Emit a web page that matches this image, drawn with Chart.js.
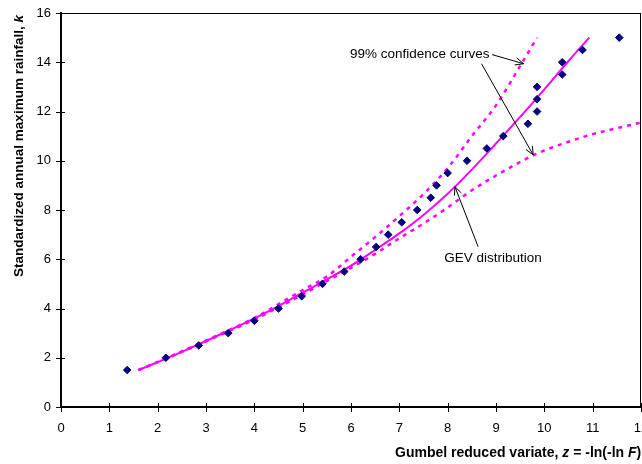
<!DOCTYPE html>
<html>
<head>
<meta charset="utf-8">
<script src="https://cdn.jsdelivr.net/npm/chart.js@4"></script>
<style>
  html, body { margin: 0; padding: 0; background: #fff; overflow: hidden; }
  #wrap { width: 700px; height: 464px; }
</style>
</head>
<body>
<div id="wrap"><canvas id="gumbelChart" width="700" height="464"></canvas></div>
<script>
// Observed standardized annual maxima (plotting positions)
const obsZ = [1.37, 2.17, 2.85, 3.46, 4.0, 4.5, 4.98, 5.41, 5.86, 6.2, 6.52, 6.77, 7.05, 7.37,
  7.65, 7.77, 8.0, 8.4, 8.81, 9.15, 9.66, 9.85, 9.85, 9.85, 10.37, 10.37, 10.79, 11.55];
const obsK = [1.5, 2.0, 2.5, 3.0, 3.5, 4.0, 4.5, 5.0, 5.5, 6.0, 6.5, 7.0, 7.5, 8.0,
  8.5, 9.0, 9.5, 10.0, 10.5, 11.0, 11.5, 12.0, 12.5, 13.0, 13.5, 14.0, 14.5, 15.0];

// Fitted GEV distribution
const gevZ = [1.6, 2, 2.5, 3, 3.5, 4, 4.5, 5, 5.5, 6, 6.5, 7, 7.5, 8, 8.5, 9, 9.5, 10, 10.5, 10.93];
const gevK = [1.5, 1.82, 2.24, 2.68, 3.13, 3.6, 4.1, 4.64, 5.18, 5.74, 6.38, 7.05, 7.8, 8.66, 9.64, 10.7, 11.78, 12.9, 14.05, 15.0];

// 99% confidence curves
const upperZ = [1.6, 2, 3, 4, 5, 5.5, 6, 6.5, 7, 7.5, 8, 8.5, 9, 9.5, 9.85];
const upperK = [1.5, 1.83, 2.7, 3.62, 4.75, 5.3, 6.1, 6.9, 7.75, 8.65, 9.7, 11.0, 12.25, 13.85, 15.0];
const lowerZ = [1.6, 2, 2.5, 3, 3.5, 4, 4.5, 5, 5.5, 6, 6.5, 7, 7.5, 8, 8.5, 9, 9.5, 9.8, 10, 10.5, 11, 11.5, 12];
const lowerK = [1.5, 1.82, 2.24, 2.67, 3.1, 3.55, 4.05, 4.57, 5.12, 5.65, 6.22, 6.85, 7.45, 8.1, 8.8, 9.4, 9.95, 10.25, 10.42, 10.77, 11.08, 11.32, 11.55];

// Axis ticks
const xTicks = [0, 1, 2, 3, 4, 5, 6, 7, 8, 9, 10, 11, 12];
const yTicks = [0, 2, 4, 6, 8, 10, 12, 14, 16];

const MAGENTA = "#FF00FF";
const NAVY = "#000080";
const FONT = "Liberation Sans, Arial, sans-serif";

function toXY(xs, ys) {
  return xs.map((x, i) => ({ x: x, y: ys[i] }));
}

function drawRich(ctx, parts, x, y, size) {
  let cx = x;
  parts.forEach((p) => {
    ctx.font = (p.italic ? "italic " : "") + "bold " + size + "px " + FONT;
    ctx.fillText(p.t, cx, y);
    cx += ctx.measureText(p.t).width;
  });
}

function richWidth(ctx, parts, size) {
  let w = 0;
  parts.forEach((p) => {
    ctx.font = (p.italic ? "italic " : "") + "bold " + size + "px " + FONT;
    w += ctx.measureText(p.t).width;
  });
  return w;
}

function arrow(ctx, x1, y1, x2, y2) {
  const ang = Math.atan2(y2 - y1, x2 - x1);
  const len = 9, spread = 0.42;
  ctx.beginPath();
  ctx.moveTo(x1, y1);
  ctx.lineTo(x2, y2);
  ctx.moveTo(x2 - len * Math.cos(ang - spread), y2 - len * Math.sin(ang - spread));
  ctx.lineTo(x2, y2);
  ctx.lineTo(x2 - len * Math.cos(ang + spread), y2 - len * Math.sin(ang + spread));
  ctx.stroke();
}

// Frame, cross ticks, axis titles and annotations
const decorations = {
  id: "decorations",
  afterDraw(chart) {
    const ctx = chart.ctx;
    const a = chart.chartArea;
    const xs = chart.scales.x, ys = chart.scales.y;
    ctx.save();
    ctx.strokeStyle = "#000";

    // top and right frame
    ctx.lineWidth = 1;
    ctx.beginPath();
    ctx.moveTo(a.left, a.top + 0.5);
    ctx.lineTo(a.right, a.top + 0.5);
    ctx.moveTo(a.right - 0.5, a.top);
    ctx.lineTo(a.right - 0.5, a.bottom);
    ctx.stroke();

    // cross tick marks
    ctx.beginPath();
    xTicks.forEach((v) => {
      const px = Math.round(xs.getPixelForValue(v)) + 0.5;
      ctx.moveTo(px, a.bottom - 4);
      ctx.lineTo(px, a.bottom + 5);
    });
    yTicks.forEach((v) => {
      const py = Math.round(ys.getPixelForValue(v)) + 0.5;
      ctx.moveTo(a.left - 5, py);
      ctx.lineTo(a.left + 4, py);
    });
    ctx.stroke();

    // axis titles
    ctx.fillStyle = "#000";
    ctx.textBaseline = "middle";
    ctx.textAlign = "left";
    drawRich(ctx, [
      { t: "Gumbel reduced variate, " },
      { t: "z", italic: true },
      { t: " = -ln(-ln " },
      { t: "F", italic: true },
      { t: ")" }
    ], 395, 453, 14);

    const yParts = [
      { t: "Standardized annual maximum rainfall, " },
      { t: "k", italic: true }
    ];
    ctx.save();
    ctx.translate(19, 146);
    ctx.rotate(-Math.PI / 2);
    drawRich(ctx, yParts, -richWidth(ctx, yParts, 13.5) / 2, 0, 13.5);
    ctx.restore();

    // annotations
    ctx.font = "13.5px " + FONT;
    ctx.fillText("99% confidence curves", xs.getPixelForValue(5.98), ys.getPixelForValue(14.31));
    ctx.fillText("GEV distribution", xs.getPixelForValue(7.93), ys.getPixelForValue(6.04));

    ctx.lineWidth = 1;
    ctx.strokeStyle = "#000";
    const P = (z, k) => [xs.getPixelForValue(z), ys.getPixelForValue(k)];
    arrow(ctx, ...P(8.92, 14.31), ...P(9.57, 13.94));
    arrow(ctx, ...P(8.70, 13.94), ...P(9.77, 10.24));
    arrow(ctx, ...P(8.63, 6.51), ...P(8.15, 8.95));
    ctx.restore();
  }
};

const ctx = document.getElementById("gumbelChart").getContext("2d");

new Chart(ctx, {
  type: "scatter",
  data: {
    datasets: [
      {
        label: "Observed",
        data: toXY(obsZ, obsK),
        pointStyle: "rectRot",
        pointRadius: 3.8,
        backgroundColor: NAVY,
        borderColor: NAVY,
        borderWidth: 1,
        showLine: false
      },
      {
        label: "GEV distribution",
        data: toXY(gevZ, gevK),
        showLine: true,
        borderColor: MAGENTA,
        borderWidth: 2,
        pointRadius: 0,
        cubicInterpolationMode: "monotone"
      },
      {
        label: "Upper 99%",
        data: toXY(upperZ, upperK),
        showLine: true,
        borderColor: MAGENTA,
        borderWidth: 2.5,
        borderDash: [4, 5],
        pointRadius: 0,
        cubicInterpolationMode: "monotone"
      },
      {
        label: "Lower 99%",
        data: toXY(lowerZ, lowerK),
        showLine: true,
        borderColor: MAGENTA,
        borderWidth: 2.5,
        borderDash: [4, 5],
        pointRadius: 0,
        cubicInterpolationMode: "monotone"
      }
    ]
  },
  options: {
    responsive: false,
    animation: false,
    devicePixelRatio: 1,
    layout: { padding: { top: 13, right: 59, left: 0, bottom: 0 } },
    plugins: {
      legend: { display: false },
      tooltip: { enabled: false }
    },
    scales: {
      x: {
        type: "linear",
        min: 0,
        max: 12,
        afterFit: (s) => { s.height = 57; },
        afterBuildTicks: (s) => { s.ticks = xTicks.map((v) => ({ value: v })); },
        grid: { display: false, drawTicks: false },
        border: { display: true, color: "#000", width: 2 },
        ticks: {
          color: "#000",
          padding: 14,
          maxRotation: 0,
          font: { family: FONT, size: 13 }
        }
      },
      y: {
        type: "linear",
        min: 0,
        max: 16,
        afterFit: (s) => { s.width = 61; s.paddingTop = 4; s.paddingBottom = 4; },
        afterBuildTicks: (s) => { s.ticks = yTicks.map((v) => ({ value: v })); },
        grid: { display: false, drawTicks: false },
        border: { display: true, color: "#000", width: 2 },
        ticks: {
          color: "#000",
          padding: 10,
          font: { family: FONT, size: 13 }
        }
      }
    }
  },
  plugins: [decorations]
});
</script>
</body>
</html>
